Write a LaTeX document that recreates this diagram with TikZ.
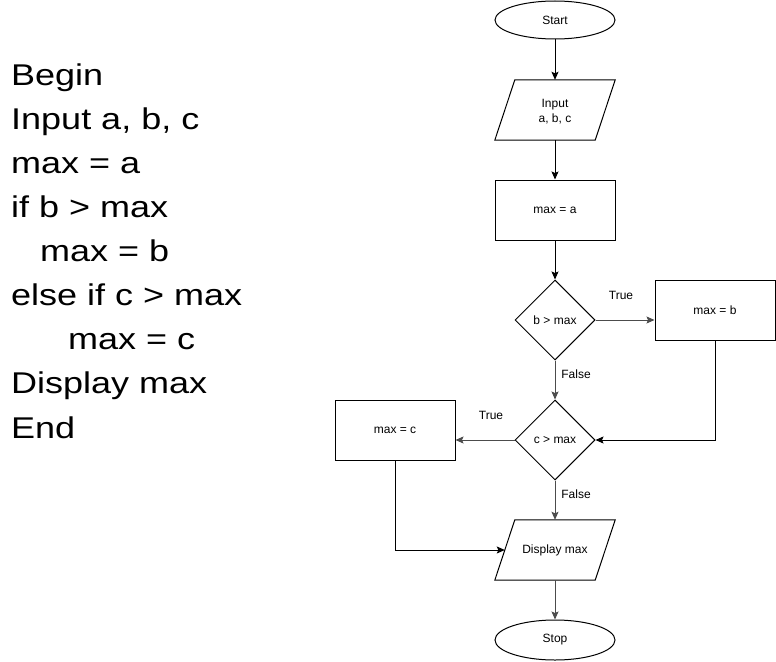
\documentclass[tikz,border=0pt]{standalone}
\usepackage{fontspec}
\setmainfont{Liberation Sans}
\newfontfamily\bigfont[FakeStretch=1.2]{Liberation Sans}
\usetikzlibrary{shapes.geometric,arrows.meta}
\begin{document}
\begin{tikzpicture}[x=1pt,y=-1pt,
  every node/.style={font=\fontsize{12}{15}\selectfont, inner sep=0pt},
  term/.style={ellipse, draw, line width=1pt, minimum width=120pt, minimum height=38pt},
  proc/.style={rectangle, draw, line width=1pt, minimum width=120pt, minimum height=60pt},
  dec/.style={diamond, draw, line width=1pt, minimum width=80pt, minimum height=80pt},
  iobox/.style={rectangle, minimum width=100pt, minimum height=60pt, align=center},
  lbl/.style={font=\fontsize{12}{15}\selectfont},
  code/.style={anchor=base west, font=\bigfont\fontsize{30}{32}\selectfont},
  arr/.style={line width=1pt, -{Stealth[length=8pt,width=7pt,inset=1.5pt]}},
  arrg/.style={arr, draw=black!70},
  seg/.style={line width=1pt}
]
\useasboundingbox (0,0) rectangle (776,661);

% pseudo code
\node[code] (c1) at (11,85) {Begin};
\node[code] (c2) at (11,129) {Input a, b, c};
\node[code] (c3) at (11,173) {max = a};
\node[code] (c4) at (11,217) {if b > max};
\node[code] (c5) at (40,261) {max = b};
\node[code] (c6) at (11,305) {else if c > max};
\node[code] (c7) at (68,349) {max = c};
\node[code] (c8) at (11,393) {Display max};
\node[code] (c9) at (11,438) {End};

% flowchart
\node[term] (start) at (555,20) {Start};
\node[iobox] (in) at (555,110) {};
\node (intxt) at (555,112) [align=center] {Input\\a, b, c};
\draw[seg] ([xshift=-10pt]in.south west) -- ([xshift=10pt]in.north west) -- ([xshift=10pt]in.north east) -- ([xshift=-10pt]in.south east) -- cycle;
\node[proc] (ma) at (555,210) {max = a};
\node[dec] (d1) at (555,320) {b > max};
\node[proc] (mb) at (715,310) {max = b};
\node[dec] (d2) at (555,440) {c > max};
\node[proc] (mc) at (395,430) {max = c};
\node[iobox] (disp) at (555,550) {Display max};
\draw[seg] ([xshift=-10pt]disp.south west) -- ([xshift=10pt]disp.north west) -- ([xshift=10pt]disp.north east) -- ([xshift=-10pt]disp.south east) -- cycle;
\node[term, minimum height=40pt] (stop) at (555,640) {Stop};

\node[lbl] (t1) at (621,295) {True};
\node[lbl] (f1) at (576,374) {False};
\node[lbl] (t2) at (491,415) {True};
\node[lbl] (f2) at (576,494) {False};

\draw[arr] (start) -- (in);
\draw[arr] (in) -- (ma);
\draw[arr] (ma) -- (d1);
\draw[arrg] (d1.east) -- (mb.west |- d1.east);
\draw[arrg] (d1) -- (d2);
\draw[arr] (mb.south) |- (d2.east);
\draw[arrg] (d2.west) -- (mc.east |- d2.west);
\draw[arr] (mc.south) |- (disp.west);
\draw[arrg] (d2) -- (disp);
\draw[arrg] (disp) -- (stop);
\end{tikzpicture}
\end{document}
